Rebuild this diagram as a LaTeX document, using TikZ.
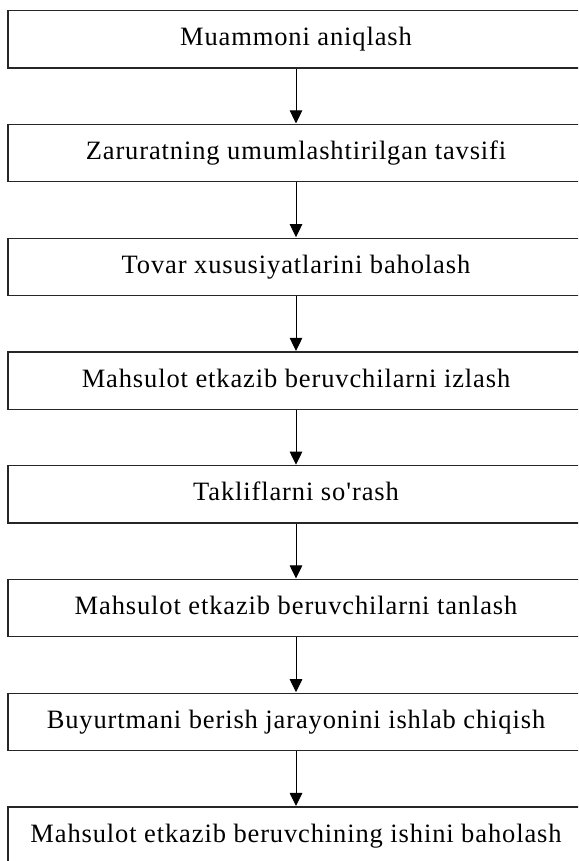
\documentclass[tikz,border=0pt]{standalone}
\usepackage{fontspec}
\setmainfont[LetterSpace=3.3]{Liberation Serif}
\usetikzlibrary{arrows.meta}
\newcommand{\straightq}{\XeTeXglyph\XeTeXglyphindex "quotesingle"\relax}
\begin{document}
\begin{tikzpicture}[x=1pt,y=1pt,
  stepbox/.style={draw=black!85, line width=1.3pt, minimum width=576pt, minimum height=57.3pt,
    inner sep=0pt, font=\fontsize{26.5}{31}\selectfont, text height=20.3pt, text depth=7.3pt},
  flow/.style={line width=1pt, -{Triangle[width=12.5pt,length=13pt]}, shorten >=0.4pt}]
\useasboundingbox (0,0) rectangle (578,-861);
\clip (0,0) rectangle (578,-861);
\fill[white] (0,0) rectangle (578,-861);
\node[stepbox] (b1) at (296,-39.35) {Muammoni aniqlash};
\node[stepbox] (b2) at (296,-153.11) {Zaruratning umumlashtirilgan tavsifi};
\node[stepbox] (b3) at (296,-266.87) {Tovar xususiyatlarini baholash};
\node[stepbox] (b4) at (296,-380.63) {Mahsulot etkazib beruvchilarni izlash};
\node[stepbox] (b5) at (296,-494.39) {Takliflarni so\kern1pt\straightq\kern1pt rash};
\node[stepbox] (b6) at (296,-608.15) {Mahsulot etkazib beruvchilarni tanlash};
\node[stepbox] (b7) at (296,-721.91) {Buyurtmani berish jarayonini ishlab chiqish};
\node[stepbox] (b8) at (296,-835.67) {Mahsulot etkazib beruvchining ishini baholash};
\foreach \a/\b in {b1/b2,b2/b3,b3/b4,b4/b5,b5/b6,b6/b7,b7/b8}
  \draw[flow] (\a.south) -- (\b.north);
\end{tikzpicture}
\end{document}
